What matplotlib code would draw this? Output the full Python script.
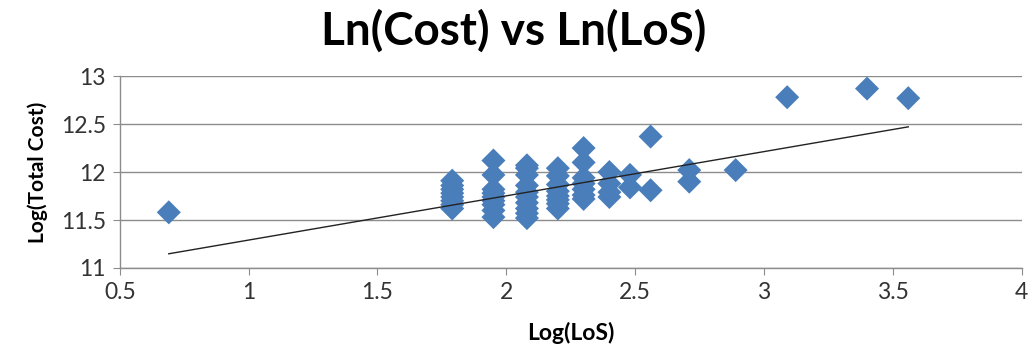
import matplotlib
matplotlib.use("Agg")
import matplotlib.pyplot as plt
import numpy as np

plt.rcParams['font.family'] = ['Lato', 'DejaVu Sans']

# Data
log_los = [0.69,
           1.79, 1.79, 1.79, 1.79, 1.79, 1.79, 1.79, 1.79,
           1.95, 1.95, 1.95, 1.95, 1.95, 1.95, 1.95, 1.95, 1.95,
           2.08, 2.08, 2.08, 2.08, 2.08, 2.08, 2.08, 2.08, 2.08, 2.08,
           2.20, 2.20, 2.20, 2.20, 2.20, 2.20, 2.20, 2.20,
           2.30, 2.30, 2.30, 2.30, 2.30, 2.30, 2.30,
           2.40, 2.40, 2.40, 2.40,
           2.48, 2.48,
           2.56, 2.56,
           2.71, 2.71,
           2.89,
           3.09, 3.40, 3.56]
log_cost = [11.58,
            11.62, 11.66, 11.70, 11.74, 11.78, 11.82, 11.86, 11.91,
            11.53, 11.60, 11.66, 11.70, 11.74, 11.78, 11.82, 11.97, 12.12,
            11.52, 11.57, 11.62, 11.68, 11.74, 11.79, 11.86, 11.97, 12.04, 12.07,
            11.62, 11.67, 11.71, 11.75, 11.80, 11.87, 11.96, 12.04,
            11.72, 11.76, 11.82, 11.88, 11.94, 12.10, 12.25,
            11.74, 11.79, 11.88, 12.00,
            11.84, 11.97,
            11.81, 12.37,
            11.90, 12.02,
            12.02,
            12.78, 12.87, 12.77]

# Linear trend line
trend_x = [0.69, 3.56]
trend_slope = 0.461
trend_intercept = 10.83

x_ticks = [0.5, 1, 1.5, 2, 2.5, 3, 3.5, 4]
x_tick_labels = ['0.5', '1', '1.5', '2', '2.5', '3', '3.5', '4']
y_ticks = [11, 11.5, 12, 12.5, 13]
y_tick_labels = ['11', '11.5', '12', '12.5', '13']

fig = plt.figure(figsize=(10.33, 3.54), dpi=100)
ax = fig.add_axes([0.116, 0.243, 0.873, 0.542])

ax.set_xlim(0.5, 4)
ax.set_ylim(11, 13)

ax.yaxis.grid(True, color='#8c8c8c', linewidth=1.0)
ax.set_axisbelow(True)

ax.scatter(log_los, log_cost, marker='D', s=150, color='#4a7ebb',
           edgecolors='none', zorder=3)

tx = np.array(trend_x)
ax.plot(tx, trend_slope * tx + trend_intercept, color='#222222',
        linewidth=1.0, zorder=4)

for s in ['top', 'right']:
    ax.spines[s].set_visible(False)
for s in ['left', 'bottom']:
    ax.spines[s].set_color('#8c8c8c')
    ax.spines[s].set_linewidth(1.0)

ax.set_xticks(x_ticks)
ax.set_xticklabels(x_tick_labels)
ax.set_yticks(y_ticks)
ax.set_yticklabels(y_tick_labels)
ax.tick_params(axis='both', direction='out', length=5, color='#8c8c8c',
               labelsize=16.5, labelcolor='#333333', pad=5)

ax.set_xlabel('Log(LoS)', fontsize=16.5, fontweight='bold', labelpad=14)
ax.set_ylabel('Log(Total Cost)', fontsize=15, fontweight='bold', labelpad=9)

fig.suptitle('Ln(Cost) vs Ln(LoS)', fontsize=33, fontweight='bold',
             x=0.497, y=0.975)

fig.savefig('out.png', dpi=100)
